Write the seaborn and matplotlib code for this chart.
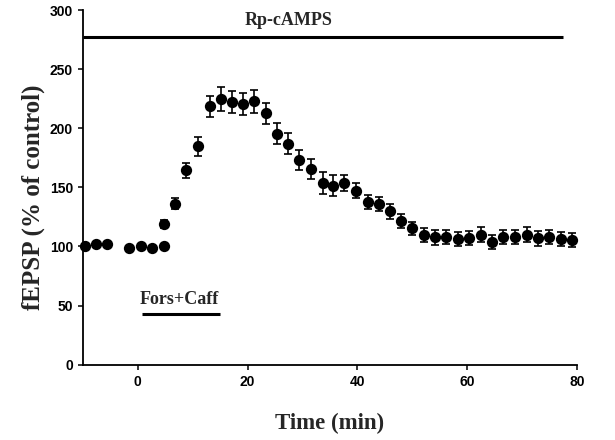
import matplotlib
matplotlib.use("Agg")
import matplotlib.pyplot as plt
import seaborn as sns
import pandas as pd

# ---- data ----
time_min = [-9.65, -7.54, -5.54, -1.58, 0.55, 2.60, 4.74, 4.74, 6.74, 8.85,
            10.98, 13.11, 15.17, 17.23, 19.23, 21.24, 23.37, 25.43, 27.43, 29.44,
            31.57, 33.70, 35.63, 37.63, 39.71, 41.89, 43.90, 45.96, 47.96, 50.02,
            52.15, 54.15, 56.16, 58.29, 60.40, 62.48, 64.48, 66.59, 68.72, 70.86,
            72.97, 74.97, 77.05, 79.16]
fepsp = [100.3, 102.3, 102.3, 98.4, 100.6, 99.0, 100.1, 119.0, 136.2, 164.3,
         184.8, 218.5, 224.6, 222.4, 220.4, 222.7, 212.6, 195.3, 186.9, 173.0,
         165.5, 153.4, 151.5, 153.4, 147.3, 137.5, 135.8, 129.7, 121.9, 115.2,
         110.1, 107.9, 108.3, 106.0, 107.3, 110.1, 103.7, 107.9, 107.9, 110.1,
         106.8, 107.9, 106.0, 105.4]
sem = [0, 0, 0, 0, 0, 0, 0, 3.0, 4.7, 6.3,
       8.0, 9.0, 10.0, 9.4, 9.2, 9.8, 9.0, 8.8, 8.8, 8.7,
       8.8, 9.2, 9.0, 6.7, 6.6, 5.9, 6.0, 6.3, 5.9, 5.9,
       5.9, 6.3, 6.0, 6.0, 6.0, 6.0, 6.0, 6.0, 6.0, 6.0,
       6.0, 6.0, 6.0, 6.0]

rp_label = "Rp-cAMPS"
rp_span = [-10, 77.5]
rp_level = 277
rp_text_pos = (27.4, 291)

fc_label = "Fors+Caff"
fc_span = [0.7, 15.0]
fc_level = 42.5
fc_text_pos = (7.5, 55)

x_ticks = [0, 20, 40, 60, 80]
y_ticks = [0, 50, 100, 150, 200, 250, 300]
x_label = "Time (min)"
y_label = "fEPSP (% of control)"

df = pd.DataFrame({"time": time_min, "fepsp": fepsp, "sem": sem})

# ---- styling ----
sns.set_theme(style="ticks")
plt.rcParams["font.family"] = ["Liberation Sans", "DejaVu Sans"]
serif = ["Liberation Serif", "DejaVu Serif"]

fig = plt.figure(figsize=(6.15, 4.4), dpi=100)
W, H = 615, 440
x0, x1 = 82.8, 576.9
y0, y1 = 364.7, 10.0
ax = fig.add_axes([x0 / W, 1 - y0 / H, (x1 - x0) / W, (y0 - y1) / H])

ax.errorbar(df["time"], df["fepsp"], yerr=df["sem"], fmt="none",
            ecolor="black", elinewidth=1.2, capsize=2.6, capthick=1.2, zorder=2)
sns.scatterplot(data=df, x="time", y="fepsp", ax=ax, color="black",
                s=66, edgecolor="black", linewidth=0, zorder=3, clip_on=False,
                legend=False)

ax.plot(rp_span, [rp_level, rp_level], color="black", lw=2.2,
        solid_capstyle="butt", clip_on=False)
ax.text(rp_text_pos[0], rp_text_pos[1], rp_label, family=serif,
        fontweight="bold", fontsize=13, ha="center", va="center")
ax.plot(fc_span, [fc_level, fc_level], color="black", lw=2.2,
        solid_capstyle="butt")
ax.text(fc_text_pos[0], fc_text_pos[1], fc_label, family=serif,
        fontweight="bold", fontsize=13, ha="center", va="center")

ax.set_xlim(-10, 80)
ax.set_ylim(0, 300)
ax.set_xticks(x_ticks)
ax.set_yticks(y_ticks)
ax.tick_params(axis="both", direction="out", length=3.6, width=1.1,
               colors="black", labelsize=10, pad=3.5)
for lab in ax.get_xticklabels() + ax.get_yticklabels():
    lab.set_fontweight("bold")

for s in ["top", "right"]:
    ax.spines[s].set_visible(False)
for s in ["left", "bottom"]:
    ax.spines[s].set_color("black")
    ax.spines[s].set_linewidth(1.3)

ax.set_xlabel(x_label, family=serif, fontweight="bold", fontsize=16.5)
ax.set_ylabel(y_label, family=serif, fontweight="bold", fontsize=18)
ax.xaxis.set_label_coords(0.5, -0.136)
ax.yaxis.set_label_coords(-0.0765, 0.473)

fig.savefig("out.png", dpi=100, facecolor="white")
